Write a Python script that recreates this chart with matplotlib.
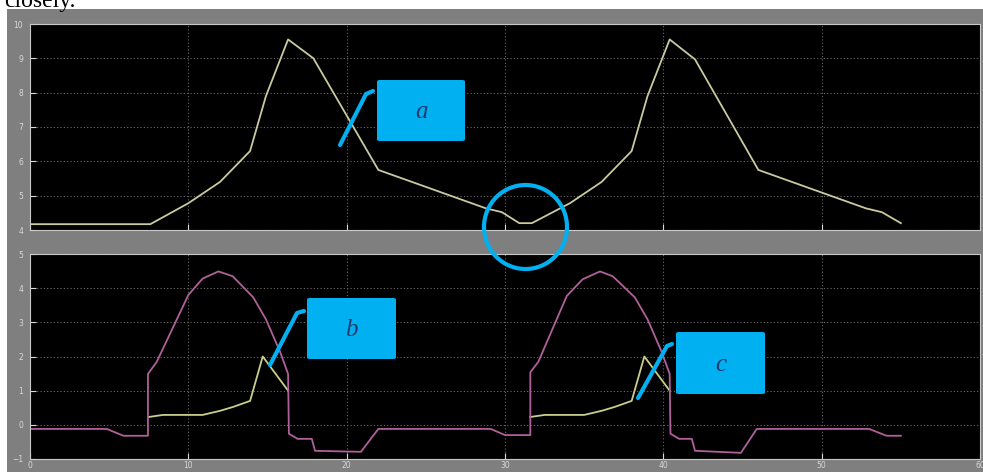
import matplotlib
matplotlib.use("Agg")
import numpy as np
import matplotlib.pyplot as plt
from matplotlib.patches import Rectangle, FancyBboxPatch, Ellipse
from matplotlib.lines import Line2D

# upper scope trace
t_top = [0, 7.6, 10, 12, 13.9, 14.9, 16.3, 17.9, 22.0, 28.8, 29.8, 30.9, 31.7,
         34.1, 36.1, 38.0, 39.0, 40.4, 42.0, 46.0, 52.8, 53.8, 55.0]
y_top = [4.17, 4.17, 4.78, 5.4, 6.3, 7.9, 9.55, 9.0, 5.75, 4.63, 4.52, 4.2, 4.2,
         4.78, 5.4, 6.3, 7.9, 9.55, 8.97, 5.75, 4.63, 4.52, 4.2]

# lower scope, magenta trace
t_mag = [0, 4.85, 5.9, 7.45, 7.45, 8.0, 10.0, 10.9, 11.9, 12.8, 14.1, 14.9, 15.8, 16.3,
         16.35, 16.9, 17.8, 18.0, 20.9, 22.0, 29.1, 30.0, 31.6, 31.6, 32.1, 33.9, 34.9,
         36.0, 36.8, 38.2, 39.0, 39.9, 40.4, 40.45, 41.0, 41.8, 42.0, 44.9, 45.9, 53.0,
         54.1, 55.0]
y_mag = [-0.12, -0.12, -0.32, -0.32, 1.49, 1.84, 3.8, 4.28, 4.49, 4.35, 3.73, 3.09, 2.13, 1.49,
         -0.26, -0.41, -0.41, -0.76, -0.79, -0.12, -0.12, -0.3, -0.3, 1.54, 1.84, 3.77, 4.26,
         4.49, 4.35, 3.73, 3.09, 2.13, 1.49, -0.26, -0.41, -0.41, -0.76, -0.82, -0.12, -0.12,
         -0.32, -0.32]

# lower scope, yellow trace (visible parts only)
t_yel = [7.5, 8.4, 10.9, 12.0, 12.8, 13.9, 14.7, 16.3, np.nan,
         31.6, 32.5, 35.0, 36.1, 36.9, 38.0, 38.8, 40.4]
y_yel = [0.23, 0.29, 0.29, 0.41, 0.52, 0.7, 2.0, 1.0, np.nan,
         0.23, 0.29, 0.29, 0.41, 0.52, 0.7, 2.0, 1.0]

W, H = 983, 472
GRAY = "#7f7f7f"
CYAN = "#00b0f0"

fig = plt.figure(figsize=(W / 100, H / 100), dpi=100, facecolor="white")


def fx(px):
    return px / W


def fy(py):
    return 1 - py / H


fig.patches.append(Rectangle((fx(7), 0), 1, fy(9), transform=fig.transFigure,
                             facecolor=GRAY, edgecolor="none", zorder=-10))
fig.text(fx(4), fy(7), "closely.", family="Liberation Serif", fontsize=17,
         va="baseline", ha="left", color="black")


def scope_axes(rect, ylim, yticks):
    ax = fig.add_axes(rect)
    ax.set_facecolor("black")
    ax.set_xlim(0, 60)
    ax.set_ylim(*ylim)
    ax.set_xticks(range(0, 61, 10))
    ax.set_yticks(yticks)
    ax.grid(True, color="#6a6a6a", linestyle=(0, (1, 2)), linewidth=0.8)
    ax.tick_params(direction="in", length=4, colors="#d8d8d8", labelsize=5.5, pad=5)
    ax.tick_params(axis="x", pad=1.5)
    for s in ax.spines.values():
        s.set_color("#c8c8c8")
        s.set_linewidth(0.8)
    return ax


ax1 = scope_axes([fx(30), fy(230), fx(980) - fx(30), fy(24) - fy(230)], (4, 10), range(4, 11))
ax1.tick_params(labelbottom=False)
ax1.plot(t_top, y_top, color="#cacaa0", linewidth=1.3)

ax2 = scope_axes([fx(30), fy(459), fx(980) - fx(30), fy(254) - fy(459)], (-1, 5), range(-1, 6))
ax2.plot(t_yel, y_yel, color="#c9cf8a", linewidth=1.3)
ax2.plot(t_mag, y_mag, color="#b0609a", linewidth=1.3)

# callouts
boxes = [("a", 377, 80, 465, 141), ("b", 307, 298, 396, 359), ("c", 676, 332, 765, 394)]
for letter, x0, y0, x1, y1 in boxes:
    fig.patches.append(FancyBboxPatch((fx(x0), fy(y1)), fx(x1) - fx(x0), fy(y0) - fy(y1),
                                      boxstyle="round,pad=0,rounding_size=0.003",
                                      transform=fig.transFigure, facecolor=CYAN,
                                      edgecolor="none", zorder=5))
    fig.text(fx((x0 + x1) / 2), fy((y0 + y1) / 2 + 2), letter, family="Liberation Serif",
             style="italic", fontsize=18, color="#1f3b6e", ha="center", va="center", zorder=6)

leaders = [([340, 366, 373], [145, 94, 91]),
           ([270, 297, 304], [365, 313, 311]),
           ([638, 667, 672], [398, 346, 344])]
for xs, ys in leaders:
    fig.lines.append(Line2D([fx(v) for v in xs], [fy(v) for v in ys], transform=fig.transFigure,
                            color=CYAN, linewidth=3, solid_capstyle="round", zorder=5))

fig.patches.append(Ellipse((fx(525.5), fy(227)), fx(83), 84 / H, transform=fig.transFigure,
                           facecolor="none", edgecolor=CYAN, linewidth=3, zorder=5))

fig.savefig("out.png", dpi=100, facecolor=fig.get_facecolor())
